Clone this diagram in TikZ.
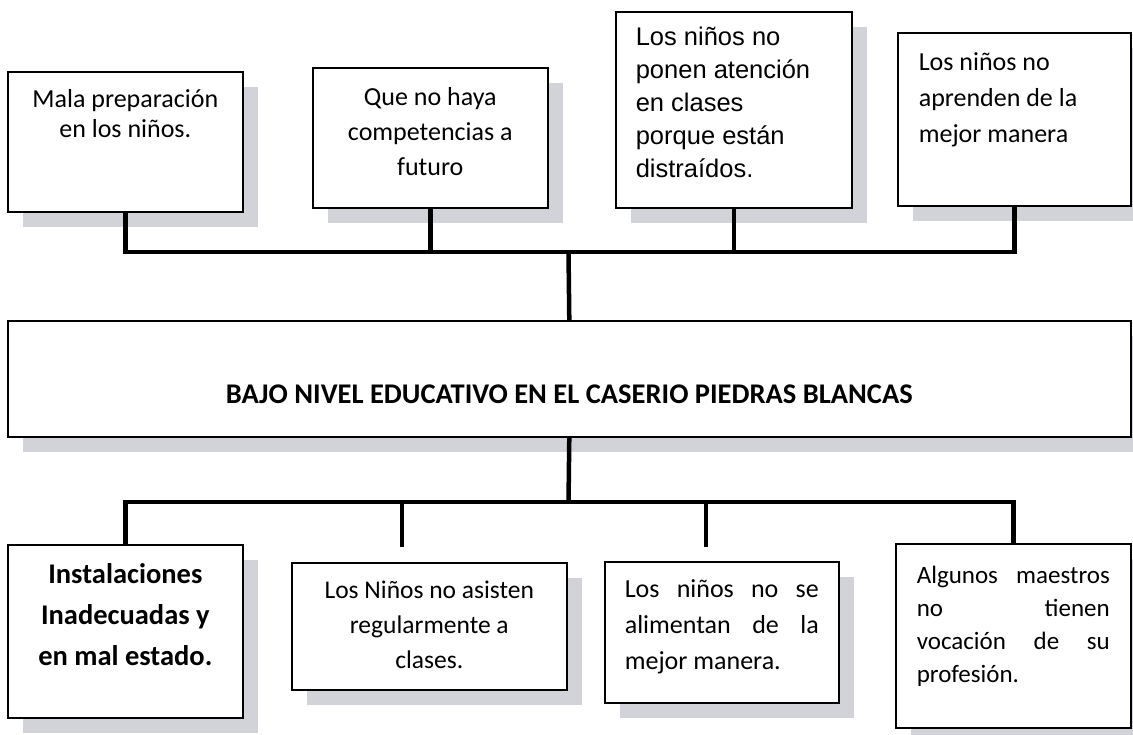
\documentclass[tikz,border=0pt]{standalone}
\usepackage{fontspec}
\setmainfont{Carlito}
\newfontfamily\arialf{Liberation Sans}
\usetikzlibrary{shadows}
\definecolor{shd}{RGB}{210,210,217}
\newcommand\tb[5]{\parbox[c][#1][t]{#2}{#3\rule{0pt}{#4}\ignorespaces#5}}
\begin{document}
\begin{tikzpicture}[x=1pt,y=-1pt,
  box/.style={draw=black, line width=1.6pt, fill=white, inner ysep=0pt, anchor=north west,
    drop shadow={shadow xshift=15pt, shadow yshift=-15pt, fill=shd, opacity=1}},
  conn/.style={draw=black, line width=4.5pt}]
\useasboundingbox (0,0) rectangle (1133,734);
\clip (0,0) rectangle (1133,734);
% top row
\node[box, inner xsep=10pt] (b1) at (7,71)
  {\tb{140pt}{215pt}{\centering\fontsize{26}{30}\selectfont}{36pt}{Mala preparación\\ en los niños.}};
\node[box, inner xsep=10pt] (b2) at (312,67)
  {\tb{140pt}{215pt}{\centering\fontsize{26}{35}\selectfont}{38pt}{Que no haya\\ competencias a\\ futuro}};
\node[box, inner xsep=20pt] (b3) at (615,11)
  {\tb{196pt}{196pt}{\raggedright\arialf\fontsize{25.5}{33}\selectfont}{34pt}{Los niños no\\ ponen atención\\ en clases\\ porque están\\ distraídos.}};
\node[box, inner xsep=21pt] (b4) at (897,32)
  {\tb{173pt}{191pt}{\raggedright\fontsize{26}{36}\selectfont}{38pt}{Los niños no\\ aprenden de la\\ mejor manera}};
% central box
\node[box, inner xsep=10pt] (c) at (7,320)
  {\tb{116pt}{1103pt}{\centering\bfseries\fontsize{28.5}{34}\selectfont}{83pt}{BAJO NIVEL EDUCATIVO EN EL CASERIO PIEDRAS BLANCAS}};
% bottom row
\node[box, inner xsep=10pt] (d1) at (7,544)
  {\tb{173pt}{215pt}{\centering\bfseries\fontsize{28.5}{41}\selectfont}{39pt}{Instalaciones\\ Inadecuadas y\\ en mal estado.}};
\node[box, inner xsep=10pt] (d2) at (291,562)
  {\tb{127pt}{255pt}{\centering\fontsize{25.5}{35}\selectfont}{36pt}{Los Niños no asisten\\ regularmente a\\ clases.}};
\node[box, inner xsep=20pt] (d3) at (604,561)
  {\tb{141pt}{194pt}{\fontsize{26}{36}\selectfont}{36pt}{Los niños no se\linebreak alimentan de la\linebreak mejor manera.}};
\node[box, inner xsep=21pt] (d4) at (895,543)
  {\tb{184pt}{193pt}{\fontsize{25}{33}\selectfont}{40pt}{Algunos maestros\linebreak no tienen\linebreak vocación de su\linebreak profesión.}};
% connectors
\coordinate (tj) at (568.5,252);
\coordinate (bj) at (568.5,502);
\coordinate (e2) at (402,547);
\coordinate (e3) at (706,547);
\draw[conn] (b1.south) |- (tj) -| (b4.south);
\draw[conn] (b2.south) -- (b2.south |- tj);
\draw[conn] (b3.south) -- (b3.south |- tj);
\draw[conn] (tj) -- (c.north);
\draw[conn] (c.south) -- (bj);
\draw[conn] (d1.north) |- (bj) -| (d4.north);
\draw[conn] (e2) -- (e2 |- bj);
\draw[conn] (e3) -- (e3 |- bj);
\end{tikzpicture}
\end{document}
